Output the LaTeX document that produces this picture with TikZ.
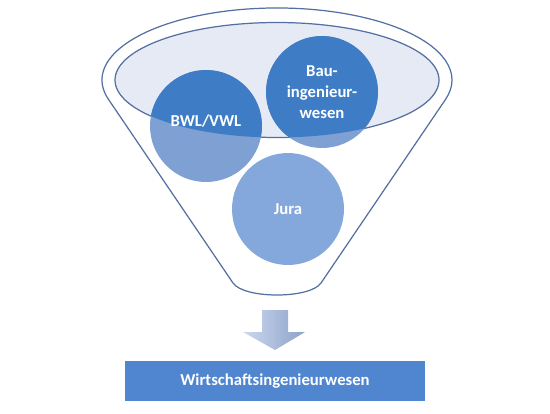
\documentclass[tikz,border=0pt]{standalone}
\usepackage{fontspec}
\setmainfont{Carlito}
\usepackage{color}
\usepackage{tikz}
\usetikzlibrary{calc}
\definecolor{rimblue}{RGB}{84,112,160}
\definecolor{bowlfill}{RGB}{229,234,245}
\definecolor{deepblue}{RGB}{62,124,198}
\definecolor{paleblue}{RGB}{126,160,210}
\definecolor{jurablue}{RGB}{132,168,220}
\definecolor{boxblue}{RGB}{80,134,208}
\definecolor{arrowlight}{RGB}{205,216,237}
\definecolor{arrowdark}{RGB}{140,162,202}
\tikzstyle{rim} = [draw=rimblue, line width=0.7pt]
\tikzstyle{bubble} = [circle, minimum size=2.24cm, inner sep=0pt]
\tikzstyle{caption} = [text=white, font=\fontsize{9.5}{12}\selectfont\bfseries, align=center]
\tikzstyle{result} = [rectangle, fill=boxblue, text centered, minimum width=6cm, minimum height=0.8cm, text=white, font=\fontsize{9.5}{11}\selectfont\bfseries]

\begin{document}
\begin{tikzpicture}[x=0.02cm, y=-0.02cm]
    \useasboundingbox (0,0) rectangle (550,413);
    % funnel
    \draw[rim, fill=white] (108.3,99.1) arc[start angle=164.6, end angle=375.4, x radius=175, y radius=72]
        -- (321,283) .. controls (310,299) and (244,299) .. (233,283) -- cycle;
    \draw[rim, fill=bowlfill] (277,80) ellipse[x radius=162, y radius=57.5];
    % subjects
    \node[bubble, fill=paleblue] (bwl) at (206,126) {};
    \node[bubble, fill=paleblue] (bau) at (322,92) {};
    \node[bubble, fill=jurablue] (jura) at (288,209) {};
    \begin{scope}
        \clip (277,80) ellipse[x radius=162, y radius=57.5];
        \fill[deepblue] (bwl.center) circle[radius=1.12cm];
        \fill[deepblue] (bau.center) circle[radius=1.12cm];
    \end{scope}
    \node[caption, yshift=3pt] at (bwl) {BWL/VWL};
    \node[caption] at (bau) {Bau-\\ingenieur-\\wesen};
    \node[caption] at (jura) {Jura};
    % result
    \shade[left color=arrowlight, right color=arrowdark]
        (262,310) -- (288,310) -- (288,332) -- (305,332) -- (275,350) -- (243,332) -- (262,332) -- cycle;
    \node[result] (final) at (275,381) {Wirtschaftsingenieurwesen};
\end{tikzpicture}
\end{document}
